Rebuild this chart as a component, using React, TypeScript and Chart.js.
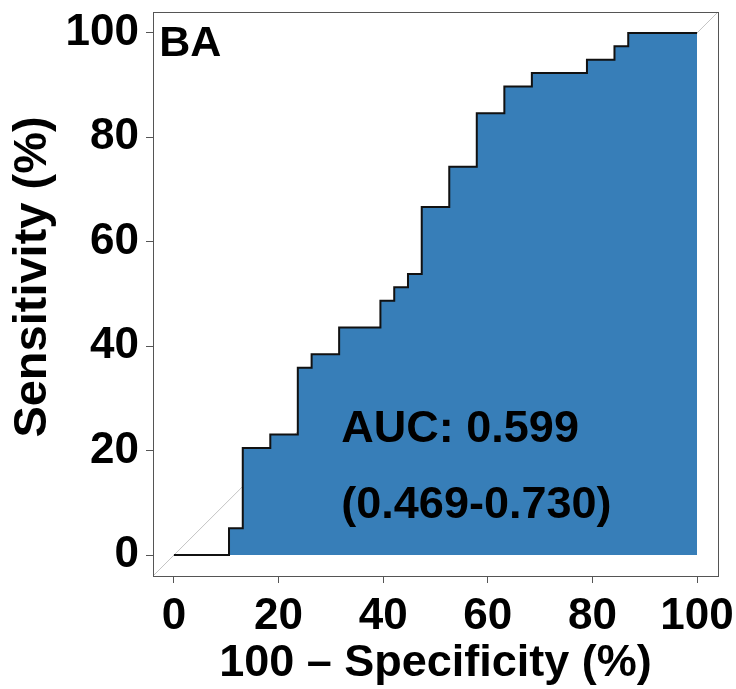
import React, { useEffect, useRef } from "react";
import { Chart, registerables } from "chart.js";

Chart.register(...registerables);

// ROC curve vertices (100 - specificity, sensitivity), in %
const fpr = [0, 10.53, 13.16, 18.42, 23.68, 26.32, 31.58, 39.47, 42.11, 44.74, 47.37, 52.63, 57.89, 63.16, 68.42, 78.95, 84.21, 86.84, 100];
const tpr = [0, 5.13, 20.51, 23.08, 35.9, 38.46, 43.59, 48.72, 51.28, 53.85, 66.67, 74.36, 84.62, 89.74, 92.31, 94.87, 97.44, 100, 100];
const diagX = [-4, 104];
const diagY = [-4, 104];
const tickValues = [0, 20, 40, 60, 80, 100];
const panelLabel = "BA";
const aucLines = ["AUC: 0.599", "(0.469-0.730)"];
const xTitle = "100 \u2013 Specificity (%)";
const yTitle = "Sensitivity (%)";

const FONT = "'Liberation Sans', Arial, Helvetica, sans-serif";

const zeroPad = (s: any) => {
  s.paddingTop = 0;
  s.paddingBottom = 0;
  s.paddingLeft = 0;
  s.paddingRight = 0;
};

export default function App() {
  const ref = useRef<HTMLCanvasElement | null>(null);

  useEffect(() => {
    const canvas = ref.current;
    if (!canvas) return;

    const textPlugin = {
      id: "rocText",
      afterDatasetsDraw(chart: any) {
        const { ctx, scales } = chart;
        const xs = scales.x;
        const ys = scales.y;
        ctx.save();
        ctx.fillStyle = "#000";
        ctx.textAlign = "left";
        ctx.textBaseline = "alphabetic";
        ctx.font = `bold 43px ${FONT}`;
        ctx.fillText(panelLabel, xs.getPixelForValue(-2.8), ys.getPixelForValue(95.6));
        ctx.font = `bold 45px ${FONT}`;
        ctx.fillText(aucLines[0], xs.getPixelForValue(32), ys.getPixelForValue(21.6));
        ctx.fillText(aucLines[1], xs.getPixelForValue(32), ys.getPixelForValue(7.15));
        ctx.restore();
      },
      afterDraw(chart: any) {
        const { ctx, chartArea } = chart;
        ctx.save();
        ctx.strokeStyle = "#555";
        ctx.lineWidth = 1;
        ctx.strokeRect(
          Math.round(chartArea.left) + 0.5,
          Math.round(chartArea.top) + 0.5,
          Math.round(chartArea.right - chartArea.left),
          Math.round(chartArea.bottom - chartArea.top)
        );
        // y-axis title
        const cy = (chartArea.top + chartArea.bottom) / 2 - 17;
        const cx = chartArea.left - 119.5;
        ctx.translate(cx, cy);
        ctx.rotate(-Math.PI / 2);
        ctx.fillStyle = "#000";
        ctx.font = `bold 47px ${FONT}`;
        ctx.textAlign = "center";
        ctx.textBaseline = "middle";
        ctx.fillText(yTitle, 0, 0);
        ctx.restore();
      },
    };

    const chart = new Chart(canvas, {
      type: "line",
      data: {
        datasets: [
          {
            data: fpr.map((x, i) => ({ x, y: tpr[i] })),
            stepped: true,
            borderColor: "#111",
            borderWidth: 2,
            backgroundColor: "#377EB8",
            fill: "origin",
            pointRadius: 0,
            order: 1,
          },
          {
            data: diagX.map((x, i) => ({ x, y: diagY[i] })),
            borderColor: "#c4c4c4",
            borderWidth: 1,
            fill: false,
            pointRadius: 0,
            order: 2,
          },
        ],
      },
      options: {
        animation: false,
        responsive: false,
        devicePixelRatio: 1,
        layout: { padding: { top: 12, right: 18, left: 0, bottom: 0 } },
        plugins: { legend: { display: false }, tooltip: { enabled: false } },
        scales: {
          x: {
            type: "linear",
            min: -4,
            max: 104,
            afterFit: (s: any) => {
              s.height = 113;
              zeroPad(s);
            },
            afterBuildTicks: (s: any) => {
              s.ticks = tickValues.map((v) => ({ value: v }));
            },
            grid: { drawOnChartArea: false, drawTicks: true, tickLength: 7, color: "#555" },
            border: { display: false },
            ticks: {
              color: "#000",
              padding: 7,
              maxRotation: 0,
              font: { family: FONT, size: 44, weight: "bold" },
            },
            title: {
              display: true,
              text: xTitle,
              color: "#000",
              font: { family: FONT, size: 45, weight: "bold", lineHeight: 1.1 },
              padding: { top: 0, bottom: 1 },
            },
          },
          y: {
            type: "linear",
            min: -4,
            max: 104,
            afterFit: (s: any) => {
              s.width = 153;
              zeroPad(s);
            },
            afterBuildTicks: (s: any) => {
              s.ticks = tickValues.map((v) => ({ value: v }));
            },
            grid: { drawOnChartArea: false, drawTicks: true, tickLength: 7, color: "#555" },
            border: { display: false },
            ticks: {
              color: "#000",
              padding: 7,
              font: { family: FONT, size: 44, weight: "bold" },
            },
            title: { display: false },
          },
        },
      },
      plugins: [textPlugin],
    });

    return () => chart.destroy();
  }, []);

  return (
    <div style={{ position: "absolute", left: 0, top: 0, width: 736, height: 689 }}>
      <canvas ref={ref} width={736} height={689} />
    </div>
  );
}
